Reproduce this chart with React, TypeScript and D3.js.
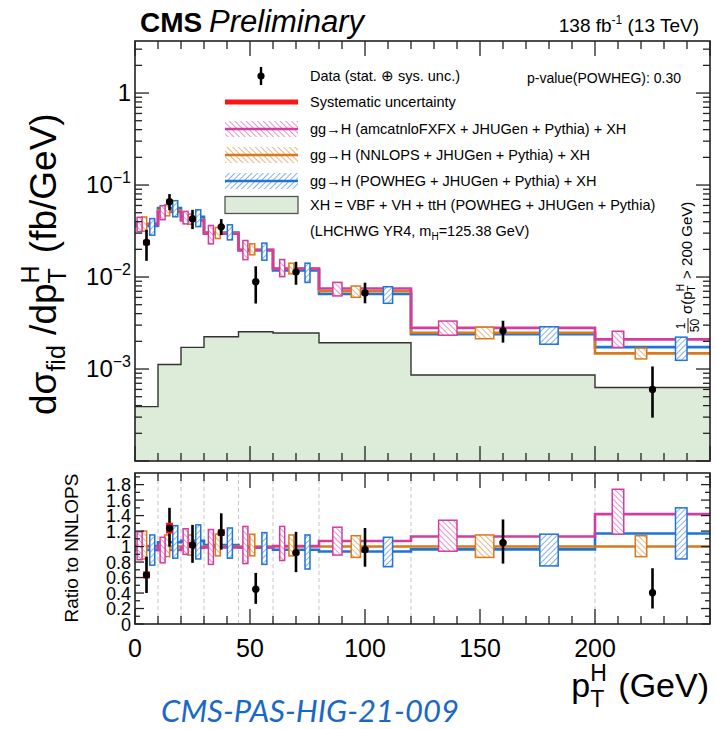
import * as d3 from 'd3';

// pT bins (GeV); last bin is >200, drawn up to 250 as 1/50 sigma
const binEdges = [0, 10, 20, 30, 45, 60, 80, 120, 200, 250];

// predictions, fb/GeV
const nnlops = [0.0375, 0.0532, 0.042, 0.0298, 0.0198, 0.0123, 0.007, 0.00248, 0.00148];
const amcatnlo = [0.0378, 0.0509, 0.0412, 0.0295, 0.0196, 0.0124, 0.0075, 0.0028, 0.0021];
const powheg = [0.0359, 0.0562, 0.0451, 0.0304, 0.0196, 0.0118, 0.00655, 0.00239, 0.00173];
const xh = [0.00039, 0.00112, 0.00172, 0.00224, 0.00254, 0.00246, 0.00193, 0.00086, 0.00063];

// theory uncertainty boxes, as ratio to NNLOPS
const amcUncLo = [0.83, 0.79, 0.9, 0.77, 0.78, 0.82, 0.89, 0.94, 1.16];
const amcUncHi = [1.19, 1.12, 1.23, 1.22, 1.26, 1.26, 1.25, 1.34, 1.74];
const nnlopsUncLo = [0.84, 0.87, 0.89, 0.88, 0.88, 0.88, 0.86, 0.86, 0.87];
const nnlopsUncHi = [1.2, 1.15, 1.15, 1.16, 1.16, 1.15, 1.14, 1.15, 1.14];
const powhegUncLo = [0.76, 0.85, 0.84, 0.85, 0.77, 0.71, 0.74, 0.75, 0.84];
const powhegUncHi = [1.15, 1.27, 1.28, 1.24, 1.18, 1.15, 1.12, 1.16, 1.5];

// data, as ratio to NNLOPS
const dataX = [5, 15, 25, 37.5, 52.5, 70, 100, 160, 225];
const dataRatio = [0.634, 1.238, 1.02, 1.18, 0.45, 0.92, 0.96, 1.05, 0.405];
const dataRatioUp = [0.87, 1.5, 1.28, 1.43, 0.66, 1.19, 1.24, 1.35, 0.72];
const dataRatioDn = [0.4, 1.0, 0.79, 0.96, 0.26, 0.67, 0.74, 0.78, 0.2];
const dataSys = [0.045, 0.07, 0.04, 0.045, 0.02, 0.03, 0.03, 0.025, 0.02];

const xTicks = [0, 50, 100, 150, 200];
const ratioTicks = [0, 0.2, 0.4, 0.6, 0.8, 1, 1.2, 1.4, 1.6, 1.8];
const decades = [-3, -2, -1, 0];

const PINK = '#d53c9f';
const ORANGE = '#d9791d';
const BLUE = '#1f74d6';
const RED = '#ff1414';
const GREEN = '#dcecd9';
const FONT = "'Liberation Sans', Arial, Helvetica, sans-serif";

const L = 135, R = 710, T1 = 41, B1 = 461, T2 = 473, B2 = 624;

export default function App() {
  const x = d3.scaleLinear().domain([0, 250]).range([L, R]);
  const yU = d3.scaleLog().domain([1e-4, 3.68]).range([B1, T1]);
  const yR = d3.scaleLinear().domain([0, 1.95]).range([B2, T2]);

  const models = [
    { vals: powheg, lo: powhegUncLo, hi: powhegUncHi, color: BLUE, pat: 'hatchBlue', off: 0.75 },
    { vals: nnlops, lo: nnlopsUncLo, hi: nnlopsUncHi, color: ORANGE, pat: 'hatchOrange', off: 0.4 },
    { vals: amcatnlo, lo: amcUncLo, hi: amcUncHi, color: PINK, pat: 'hatchPink', off: 0.2 },
  ];

  const stepPts = (vals: number[]) => binEdges.map((e, i) => [e, vals[Math.min(i, vals.length - 1)]] as [number, number]);
  const stepLine = (ys: any) => d3.line<[number, number]>().x(d => x(d[0])).y(d => ys(d[1])).curve(d3.curveStepAfter);

  const xhArea = d3.area<[number, number]>().x(d => x(d[0])).y0(B1).y1(d => yU(d[1])).curve(d3.curveStepAfter);

  const boxes = (m: any, panel: 'u' | 'r') =>
    m.vals.map((_: number, i: number) => {
      const e0 = binEdges[i], e1 = binEdges[i + 1];
      const cx = x(e0 + m.off * (e1 - e0));
      const w = Math.max(5, 0.1 * (x(e1) - x(e0)));
      const top = panel === 'u' ? yU(m.hi[i] * nnlops[i]) : yR(m.hi[i]);
      const bot = panel === 'u' ? yU(m.lo[i] * nnlops[i]) : yR(m.lo[i]);
      return (
        <g key={i}>
          <rect x={cx - w / 2} y={top} width={w} height={bot - top} fill="#fff" />
          <rect x={cx - w / 2} y={top} width={w} height={bot - top} fill={`url(#${m.pat})`} stroke={m.color} strokeWidth={1.5} />
        </g>
      );
    });

  const dataMarks = (panel: 'u' | 'r') =>
    dataX.map((dx, i) => {
      const f = panel === 'u' ? (v: number) => yU(v * nnlops[i]) : (v: number) => yR(v);
      const cx = x(dx);
      return (
        <g key={i}>
          <line x1={cx} x2={cx} y1={f(dataRatioUp[i])} y2={f(dataRatioDn[i])} stroke="#000" strokeWidth={2.6} />
          <rect x={cx - 3.5} width={7} y={f(dataRatio[i] + dataSys[i])} height={f(dataRatio[i] - dataSys[i]) - f(dataRatio[i] + dataSys[i])} fill={RED} />
          <circle cx={cx} cy={f(dataRatio[i])} r={3.6} fill="#000" />
        </g>
      );
    });

  // ticks
  const xMinor = d3.range(0, 251, 10);
  const tickLines: JSX.Element[] = [];
  const addXTicks = (top: number, bot: number, key: string) => {
    xMinor.forEach(v => {
      const len = v % 50 === 0 ? 15 : 8;
      tickLines.push(<line key={`${key}b${v}`} x1={x(v)} x2={x(v)} y1={bot} y2={bot - len} />);
      tickLines.push(<line key={`${key}t${v}`} x1={x(v)} x2={x(v)} y1={top} y2={top + len} />);
    });
  };
  addXTicks(T1, B1, 'u');
  addXTicks(T2, B2, 'r');
  [-4, ...decades].forEach(dk => {
    for (let k = 1; k <= 9; k++) {
      const v = k * Math.pow(10, dk);
      if (v < 1e-4 || v > 3.68) continue;
      const len = k === 1 ? 14 : 7;
      tickLines.push(<line key={`ly${dk}_${k}`} x1={L} x2={L + len} y1={yU(v)} y2={yU(v)} />);
      tickLines.push(<line key={`ry${dk}_${k}`} x1={R} x2={R - len} y1={yU(v)} y2={yU(v)} />);
    }
  });
  d3.range(0, 19.5, 1).forEach(k => {
    const v = k / 10;
    const len = k % 2 === 0 ? 9 : 5;
    tickLines.push(<line key={`lr${k}`} x1={L} x2={L + len} y1={yR(v)} y2={yR(v)} />);
    tickLines.push(<line key={`rr${k}`} x1={R} x2={R - len} y1={yR(v)} y2={yR(v)} />);
  });

  const legendRows = [76, 102, 129, 155, 181, 205, 231];
  const lx0 = 225, lx1 = 298, ltx = 310;

  return (
    <svg width={716} height={729} style={{ position: 'absolute', left: 0, top: 0, background: '#fff' }} fontFamily={FONT}>
      <defs>
        <pattern id="hatchPink" patternUnits="userSpaceOnUse" width={4} height={4} patternTransform="rotate(-45)">
          <line x1={0} y1={0} x2={0} y2={4} stroke={PINK} strokeWidth={1.1} />
        </pattern>
        <pattern id="hatchOrange" patternUnits="userSpaceOnUse" width={4} height={4} patternTransform="rotate(-45)">
          <line x1={0} y1={0} x2={0} y2={4} stroke={ORANGE} strokeWidth={1.1} />
        </pattern>
        <pattern id="hatchBlue" patternUnits="userSpaceOnUse" width={4} height={4} patternTransform="rotate(45)">
          <line x1={0} y1={0} x2={0} y2={4} stroke={BLUE} strokeWidth={1.1} />
        </pattern>
        <clipPath id="clipU"><rect x={L} y={T1} width={R - L} height={B1 - T1} /></clipPath>
        <clipPath id="clipR"><rect x={L} y={T2} width={R - L} height={B2 - T2} /></clipPath>
      </defs>
      <rect width={716} height={729} fill="#fff" />

      {/* upper panel */}
      <g clipPath="url(#clipU)">
        <path d={xhArea(stepPts(xh)) || ''} fill={GREEN} />
        <path d={stepLine(yU)(stepPts(xh)) || ''} fill="none" stroke="#333" strokeWidth={1.4} />
        {models.map((m, j) => (
          <path key={j} d={stepLine(yU)(stepPts(m.vals)) || ''} fill="none" stroke={m.color} strokeWidth={2.6} />
        ))}
        {models.map((m, j) => <g key={j}>{boxes(m, 'u')}</g>)}
        {dataMarks('u')}
      </g>

      {/* ratio panel */}
      <g clipPath="url(#clipR)">
        {binEdges.slice(1, -1).map(e => (
          <line key={e} x1={x(e)} x2={x(e)} y1={T2} y2={B2} stroke="#c0c0c0" strokeWidth={0.9} strokeDasharray="4,3" />
        ))}
        {models.map((m, j) => (
          <path key={j} d={stepLine(yR)(stepPts(m.vals.map((v: number, i: number) => v / nnlops[i]))) || ''} fill="none" stroke={m.color} strokeWidth={2.6} />
        ))}
        {models.map((m, j) => <g key={j}>{boxes(m, 'r')}</g>)}
        {dataMarks('r')}
      </g>

      <g stroke="#222" strokeWidth={1.3}>{tickLines}</g>
      <rect x={L} y={T1} width={R - L} height={B1 - T1} fill="none" stroke="#222" strokeWidth={1.6} />
      <rect x={L} y={T2} width={R - L} height={B2 - T2} fill="none" stroke="#222" strokeWidth={1.6} />

      {/* axis labels */}
      {xTicks.map(v => (
        <text key={v} x={x(v)} y={657} fontSize={25} textAnchor="middle">{v}</text>
      ))}
      {decades.map(dk => (
        <text key={dk} x={131} y={yU(Math.pow(10, dk)) + 8} fontSize={24} textAnchor="end">
          {dk === 0 ? '1' : <>10<tspan fontSize={16} dy={-10}>{`\u2212${-dk}`}</tspan></>}
        </text>
      ))}
      {ratioTicks.map(v => (
        <text key={v} x={131} y={yR(v) + 6.5} fontSize={18} textAnchor="end">{String(+v.toFixed(1))}</text>
      ))}

      {/* axis titles */}
      <text transform="translate(56,415) rotate(-90)" fontSize={37}>
        dσ<tspan fontSize={25} dy={9}>fid</tspan>
        <tspan dy={-9}> /dp</tspan>
        <tspan fontSize={25} dy={10}>T</tspan>
        <tspan fontSize={25} dx={-15.3} dy={-27}>H</tspan>
        <tspan dy={17} dx={2}> (fb/GeV)</tspan>
      </text>
      <text transform="translate(78,548) rotate(-90)" fontSize={19} textAnchor="middle">Ratio to NNLOPS</text>
      <text x={709} y={697} fontSize={34} textAnchor="end">
        p<tspan fontSize={23} dy={10}>T</tspan>
        <tspan fontSize={23} dx={-14} dy={-26}>H</tspan>
        <tspan dy={16} dx={2}> (GeV)</tspan>
      </text>

      {/* header */}
      <text x={140} y={32} fontSize={28} fontWeight="bold">CMS</text>
      <text x={209} y={32} fontSize={31} fontStyle="italic">Preliminary</text>
      <text x={699} y={32} fontSize={19} textAnchor="end">
        138 fb<tspan fontSize={12} dy={-8}>-1</tspan><tspan dy={8}> (13 TeV)</tspan>
      </text>

      {/* legend */}
      <g fontSize={14.5}>
        <line x1={261} x2={261} y1={legendRows[0] - 9} y2={legendRows[0] + 9} stroke="#000" strokeWidth={2.4} />
        <circle cx={261} cy={legendRows[0]} r={3.6} fill="#000" />
        <text x={ltx} y={legendRows[0] + 5}>Data (stat. ⊕ sys. unc.)</text>
        <line x1={lx0} x2={lx1} y1={legendRows[1]} y2={legendRows[1]} stroke={RED} strokeWidth={5} />
        <text x={ltx} y={legendRows[1] + 5}>Systematic uncertainty</text>
        {[
          { m: models[2], t: 'gg\u2192H (amcatnloFXFX + JHUGen + Pythia) + XH', r: 2 },
          { m: models[1], t: 'gg\u2192H (NNLOPS + JHUGen + Pythia) + XH', r: 3 },
          { m: models[0], t: 'gg\u2192H (POWHEG + JHUGen + Pythia) + XH', r: 4 },
        ].map(({ m, t, r }) => (
          <g key={r}>
            <rect x={lx0} y={legendRows[r] - 8} width={lx1 - lx0} height={16} fill={`url(#${m.pat})`} />
            <line x1={lx0} x2={lx1} y1={legendRows[r]} y2={legendRows[r]} stroke={m.color} strokeWidth={2.6} />
            <text x={ltx} y={legendRows[r] + 5}>{t}</text>
          </g>
        ))}
        <rect x={lx0} y={legendRows[5] - 8.5} width={lx1 - lx0} height={17} fill={GREEN} stroke="#555" strokeWidth={1.3} />
        <text x={ltx} y={legendRows[5] + 5}>XH = VBF + VH + ttH (POWHEG + JHUGen + Pythia)</text>
        <text x={ltx} y={legendRows[6] + 5}>
          (LHCHWG YR4, m<tspan fontSize={10} dy={4}>H</tspan><tspan dy={-4}>=125.38 GeV)</tspan>
        </text>
        <text x={681} y={83} textAnchor="end" fontSize={14}>p-value(POWHEG): 0.30</text>
      </g>

      {/* normalisation note for last bin */}
      <g transform="translate(692,333) rotate(-90)">
        <text x={7} y={-7} fontSize={12} textAnchor="middle">1</text>
        <line x1={0} x2={15} y1={-4} y2={-4} stroke="#000" strokeWidth={0.9} />
        <text x={7.5} y={7} fontSize={12} textAnchor="middle">50</text>
        <text x={19} y={0} fontSize={15}>
          σ(p<tspan fontSize={10} dy={3}>T</tspan><tspan fontSize={10} dx={-6} dy={-11}>H</tspan>
          <tspan dy={8} dx={1}> &gt; 200 GeV)</tspan>
        </text>
      </g>

      <text x={310} y={722} fontSize={31} fontStyle="italic" textAnchor="middle" fill="#1a68c6" fontFamily="Lato, 'Open Sans', sans-serif">
        CMS-PAS-HIG-21-009
      </text>
    </svg>
  );
}
